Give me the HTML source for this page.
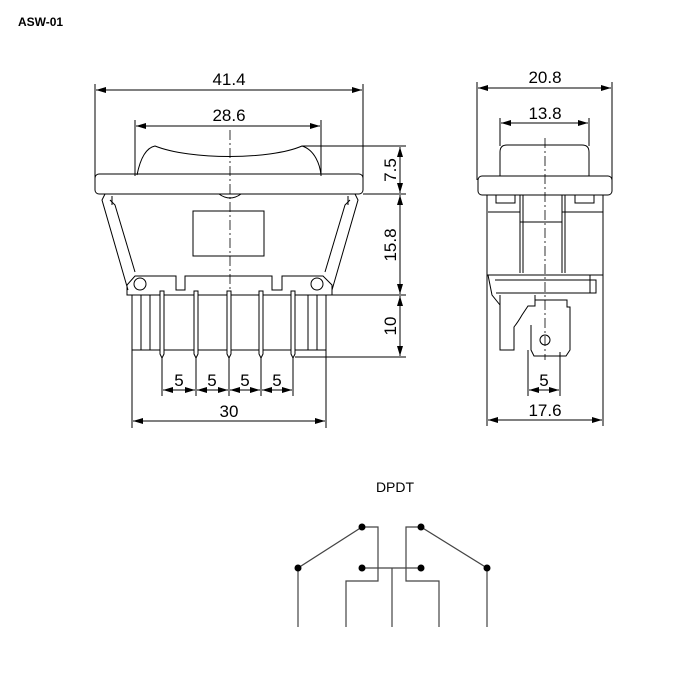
<!DOCTYPE html>
<html><head><style>body{margin:0;background:#fff}svg{display:block}</style></head><body>
<svg width="700" height="700" viewBox="0 0 700 700" xmlns="http://www.w3.org/2000/svg" font-family="Liberation Sans, sans-serif">
<defs><marker id="a" viewBox="0 0 10 6" refX="10" refY="3" markerWidth="10" markerHeight="6" orient="auto-start-reverse" markerUnits="userSpaceOnUse"><path d="M0,0L10,3L0,6z" fill="#000"/></marker></defs>
<text x="18" y="26" font-size="12" font-weight="bold">ASW-01</text>
<g stroke="#000" stroke-width="1" fill="none">
<!-- left view dims -->
<line x1="95" y1="84" x2="95" y2="180"/><line x1="363" y1="84" x2="363" y2="180"/>
<line x1="96" y1="90" x2="362" y2="90" marker-start="url(#a)" marker-end="url(#a)"/>
<line x1="135" y1="120" x2="135" y2="176"/><line x1="321" y1="120" x2="321" y2="176"/>
<line x1="136" y1="126" x2="320" y2="126" marker-start="url(#a)" marker-end="url(#a)"/>
<!-- rocker -->
<path d="M137,175 C140,160 145,148 155,146 C190,160 270,160 302,146 C315,150 320,165 321,175"/>
<rect x="95" y="174" width="268" height="20" rx="4"/>
<line x1="230" y1="130" x2="230" y2="300" stroke-dasharray="10,3,2,3" stroke-width="0.8"/>
<path d="M219,194 Q230,202 241,194"/>
<!-- body -->
<path d="M105,194 L102,200 L128,290 M355,194 L358,200 L332,290"/>
<path d="M110,200 L115,205 L135,272 M350,200 L345,205 L325,272"/>
<path d="M112,196 L112,205 M348,196 L348,205"/>
<path d="M127,295 L127,285 L135,276 L176,276 L176,290 L185,290 L185,276 L272,276 L272,290 L282,290 L282,276 L323,276 L332,285 L332,295 Z"/>
<rect x="193" y="211" width="71" height="45"/>
<circle cx="140" cy="284" r="6"/><circle cx="317" cy="284" r="6"/>
<!-- pin block -->
<path d="M132,295 L132,350 L326,350 L326,295"/>
<line x1="141" y1="295" x2="141" y2="350"/><line x1="150" y1="295" x2="150" y2="350"/>
<line x1="308" y1="295" x2="308" y2="350"/><line x1="317" y1="295" x2="317" y2="350"/>
<g fill="#fff">
<path d="M160,291 L160,354 L162,358 L164,354 L164,291 Z"/>
<path d="M194,291 L194,354 L196,358 L198,354 L198,291 Z"/>
<path d="M227,291 L227,354 L229,358 L231,354 L231,291 Z"/>
<path d="M259,291 L259,354 L261,358 L263,354 L263,291 Z"/>
<path d="M291,291 L291,354 L293,358 L295,354 L295,291 Z"/>
</g>
<!-- vertical dims -->
<line x1="302" y1="146" x2="406" y2="146"/><line x1="363" y1="194" x2="406" y2="194"/>
<line x1="332" y1="295" x2="406" y2="295"/><line x1="295" y1="357" x2="406" y2="357"/>
<line x1="400" y1="147" x2="400" y2="193" marker-start="url(#a)" marker-end="url(#a)"/>
<line x1="400" y1="195" x2="400" y2="294" marker-start="url(#a)" marker-end="url(#a)"/>
<line x1="400" y1="296" x2="400" y2="356" marker-start="url(#a)" marker-end="url(#a)"/>
<!-- bottom dims -->
<line x1="162" y1="358" x2="162" y2="396"/><line x1="196" y1="358" x2="196" y2="396"/><line x1="229" y1="358" x2="229" y2="396"/><line x1="261" y1="358" x2="261" y2="396"/><line x1="293" y1="358" x2="293" y2="396"/>
<line x1="163" y1="390" x2="195" y2="390" marker-start="url(#a)" marker-end="url(#a)"/>
<line x1="197" y1="390" x2="228" y2="390" marker-start="url(#a)" marker-end="url(#a)"/>
<line x1="230" y1="390" x2="260" y2="390" marker-start="url(#a)" marker-end="url(#a)"/>
<line x1="262" y1="390" x2="292" y2="390" marker-start="url(#a)" marker-end="url(#a)"/>
<line x1="132" y1="350" x2="132" y2="428"/><line x1="326" y1="350" x2="326" y2="428"/>
<line x1="133" y1="421" x2="325" y2="421" marker-start="url(#a)" marker-end="url(#a)"/>
<!-- right view -->
<line x1="477" y1="82" x2="477" y2="180"/><line x1="612" y1="82" x2="612" y2="180"/>
<line x1="478" y1="88" x2="611" y2="88" marker-start="url(#a)" marker-end="url(#a)"/>
<line x1="500" y1="118" x2="500" y2="146"/><line x1="589" y1="118" x2="589" y2="146"/>
<line x1="501" y1="123" x2="588" y2="123" marker-start="url(#a)" marker-end="url(#a)"/>
<path d="M500,176 L500,152 Q500,145 507,145 L582,145 Q589,145 589,152 L589,176"/>
<rect x="478" y="176" width="134" height="19" rx="4"/>
<line x1="545" y1="138" x2="545" y2="360" stroke-dasharray="10,3,2,3" stroke-width="0.8"/>
<path d="M487,195 L487,275 L603,275 L603,195"/>
<path d="M496,195 L496,203 L515,203 L515,195 M575,195 L575,203 L594,203 L594,195"/>
<path d="M520,195 L520,273 M562,195 L562,273 M488,212 L520,212 M562,212 L603,212 M520,222 L562,222 M523,195 L523,273 M565,195 L565,273"/>
<path d="M488,275 L492,295 L500,305 M495,280 L596,280 L596,293 L496,293 M590,275 L590,293"/>
<path d="M500,295 L500,350 L514,350 L514,327 Q518,322 522,315 L528,306 L535,306 L535,295"/>
<path d="M535,300 L567,300 L567,307 L570,307 L570,350 L566,356 L534,356 L531,350 L531,325"/>
<circle cx="545" cy="340" r="5"/>
<line x1="528" y1="350" x2="528" y2="396"/><line x1="560" y1="352" x2="560" y2="396"/>
<line x1="529" y1="390" x2="559" y2="390" marker-start="url(#a)" marker-end="url(#a)"/>
<line x1="487" y1="275" x2="487" y2="426"/><line x1="603" y1="275" x2="603" y2="426"/>
<line x1="488" y1="420" x2="602" y2="420" marker-start="url(#a)" marker-end="url(#a)"/>
</g>
<g font-size="17" fill="#000" text-anchor="middle">
<text x="229" y="85">41.4</text><text x="229" y="121">28.6</text>
<text x="179" y="386">5</text><text x="212" y="386">5</text><text x="245" y="386">5</text><text x="277" y="386">5</text>
<text x="229" y="417">30</text>
<text x="545" y="83">20.8</text><text x="545" y="119">13.8</text>
<text x="544" y="386">5</text><text x="545" y="416">17.6</text>
<text transform="translate(396,170) rotate(-90)">7.5</text>
<text transform="translate(396,245) rotate(-90)">15.8</text>
<text transform="translate(396,326) rotate(-90)">10</text>
</g>
<text x="395" y="492" font-size="14" text-anchor="middle">DPDT</text>
<g stroke="#444" stroke-width="1.2" fill="none">
<path d="M298,627 L298,568 L362,527 L378,527 L378,581 L346,581 L346,627"/>
<path d="M362,568 L421,568 M392,568 L392,627"/>
<path d="M487,627 L487,568 L421,527 L406,527 L406,581 L439,581 L439,627"/>
</g>
<g fill="#000"><circle cx="362" cy="527" r="3.5"/><circle cx="421" cy="527" r="3.5"/><circle cx="298" cy="568" r="3.5"/><circle cx="362" cy="568" r="3.5"/><circle cx="421" cy="568" r="3.5"/><circle cx="487" cy="568" r="3.5"/></g>
</svg>
</body></html>
